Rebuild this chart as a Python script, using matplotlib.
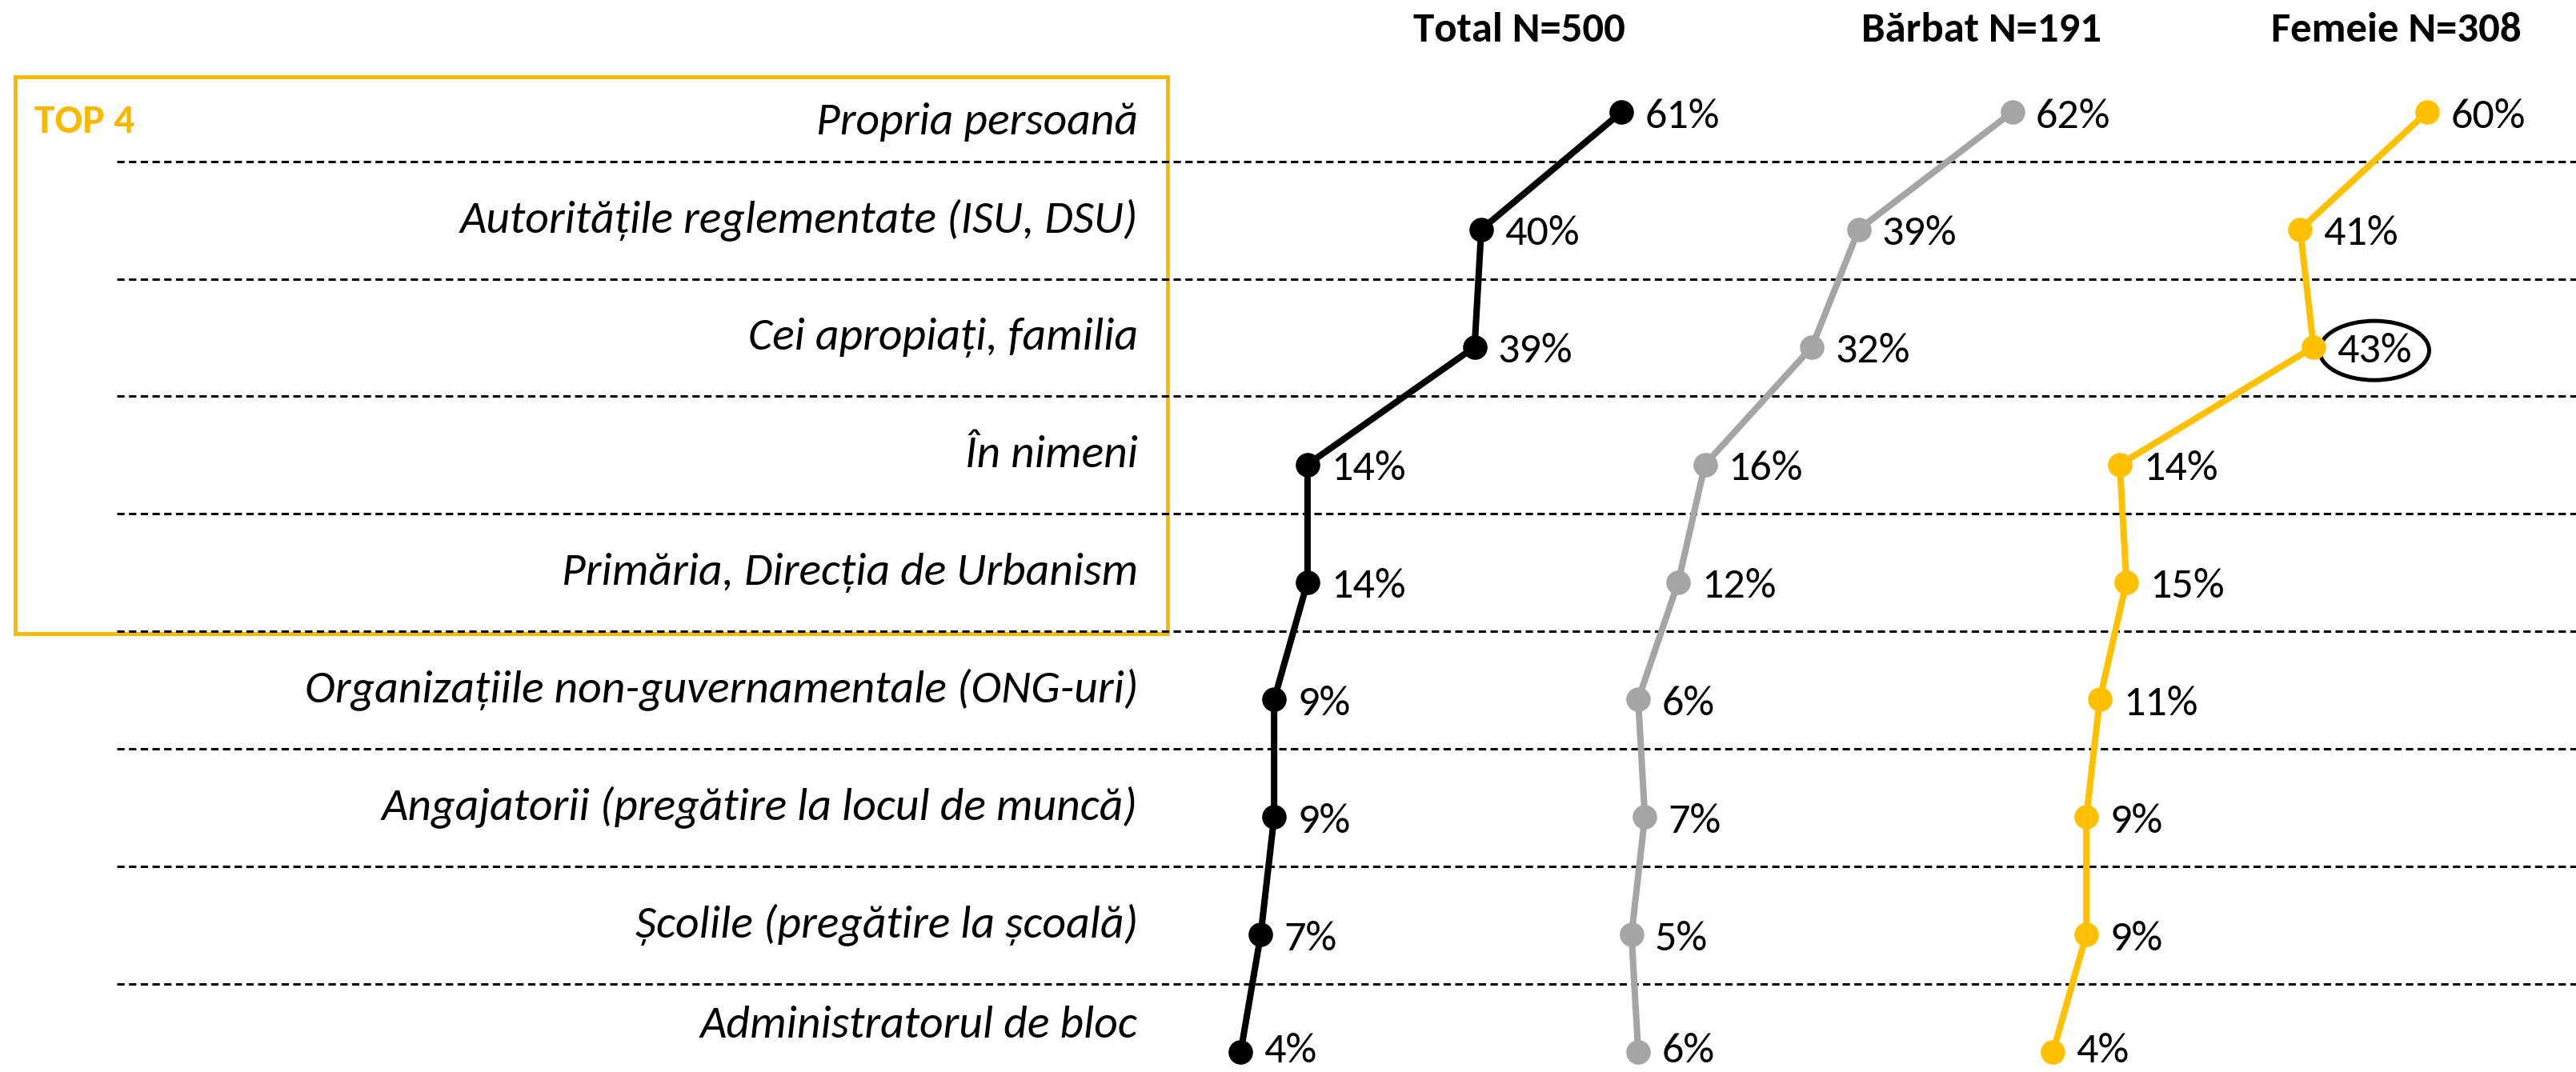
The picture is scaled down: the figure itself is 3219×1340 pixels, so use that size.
import numpy as np
import matplotlib
matplotlib.use("Agg")
import matplotlib.pyplot as plt
from matplotlib import font_manager
from matplotlib.patches import Rectangle, Ellipse

# data
categories = [
    "Propria persoană",
    "Autoritățile reglementate (ISU, DSU)",
    "Cei apropiați, familia",
    "În nimeni",
    "Primăria, Direcția de Urbanism",
    "Organizațiile non-guvernamentale (ONG-uri)",
    "Angajatorii (pregătire la locul de muncă)",
    "Școlile (pregătire la școală)",
    "Administratorul de bloc",
]
total = [61, 40, 39, 14, 14, 9, 9, 7, 4]
barbat = [62, 39, 32, 16, 12, 6, 7, 5, 6]
femeie = [60, 41, 43, 14, 15, 11, 9, 9, 4]
headers = ["Total N=500", "Bărbat N=191", "Femeie N=308"]
series = [total, barbat, femeie]
colors = ["#000000", "#a5a5a5", "#ffc000"]
box_color = "#f7b900"

# font: pick a narrow sans close to Calibri
installed = {f.name for f in font_manager.fontManager.ttflist}
for cand in ["Carlito", "Liberation Sans Narrow", "Lato", "Open Sans"]:
    if cand in installed:
        FONT = cand
        break
else:
    FONT = "DejaVu Sans"
plt.rcParams["font.family"] = [FONT, "DejaVu Sans"]

W, H = 3219, 1340
fig = plt.figure(figsize=(W / 100, H / 100), dpi=100)
ylim = (8.17, -0.953)

# background axes for labels, separators and box
bg = fig.add_axes([0, 0, 1, 1])
bg.set_xlim(0, 1)
bg.set_ylim(*ylim)
bg.axis("off")

n = len(categories)
seps = np.arange(n - 1) + 0.42
bounds = np.concatenate([[-0.25], seps, [8.13]])
label_y = (bounds[:-1] + bounds[1:]) / 2

for s in seps:
    bg.plot([146 / W, 1], [s, s], color="black", lw=2.2,
            linestyle=(0, (3.0, 1.8)), solid_capstyle="butt")

for y, cat in zip(label_y, categories):
    bg.text(1422 / W, y, cat, ha="right", va="center", fontsize=41.5,
            style="italic")

bg.add_patch(Rectangle((19 / W, -0.30), (1459 - 19) / W, 4.74,
                       fill=False, edgecolor=box_color, lw=3.5))
bg.text(43 / W, 0.08, "TOP 4", color=box_color, fontsize=37,
        fontweight="bold", ha="left", va="center")

# three panels
lefts = [1517 / W, 1997 / W, 2532 / W]
width = 70 * 8.35 / W
hx = [1898 / W, 2476 / W, 2994 / W]
ypos = np.arange(n)
for i, (vals, col) in enumerate(zip(series, colors)):
    ax = fig.add_axes([lefts[i], 0, width, 1])
    ax.set_xlim(0, 70)
    ax.set_ylim(*ylim)
    ax.axis("off")
    ax.patch.set_alpha(0)
    ax.plot(vals, ypos, color=col, lw=5.8, marker="o", markersize=21,
            solid_capstyle="round")
    for v, y in zip(vals, ypos):
        dy = -4 if y < n - 1 else 1
        ax.annotate(f"{v}%", (v, y), xytext=(21, dy),
                    textcoords="offset points", ha="left", va="center",
                    fontsize=39)
    if i == 2:
        k = 2
        ax.add_patch(Ellipse((vals[k] + 9.1, k + 0.03), 16.4, 0.504,
                             fill=False, edgecolor="black", lw=3.6,
                             clip_on=False))
    fig.text(hx[i], 1 - 38 / H, headers[i], ha="center", va="center",
             fontsize=38, fontweight="bold")

fig.savefig("out.png", dpi=100)
